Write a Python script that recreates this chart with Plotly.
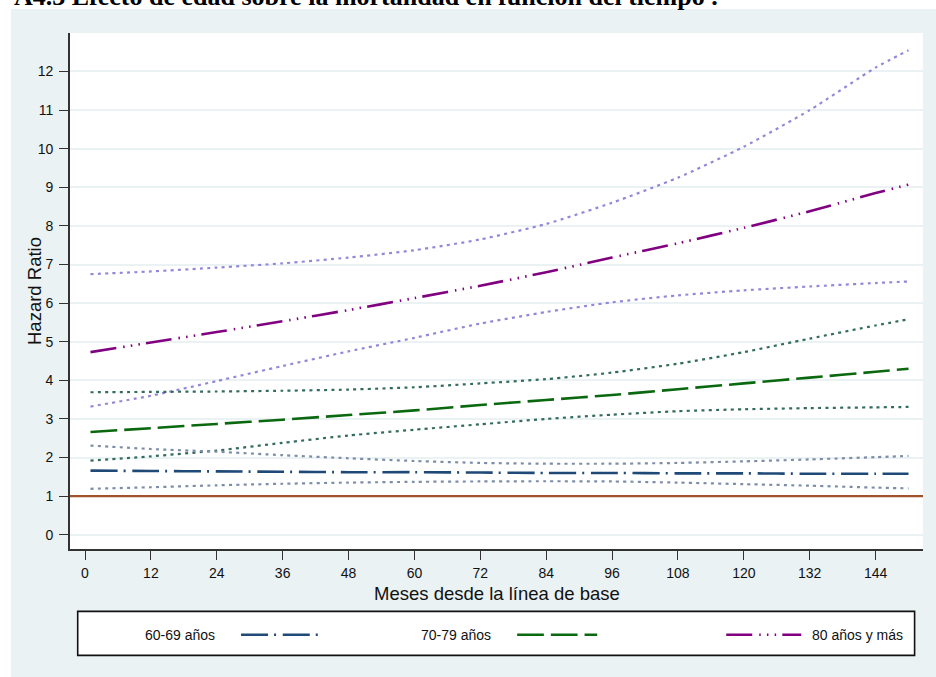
import plotly.graph_objects as go

# ---------------- data ----------------
months = [1, 12, 24, 36, 48, 60, 72, 84, 96, 108, 120, 132, 144, 150]

hr_6069 = [1.66, 1.65, 1.64, 1.63, 1.62, 1.62, 1.61, 1.60, 1.60, 1.59, 1.59, 1.58, 1.58, 1.58]
lo_6069 = [1.19, 1.23, 1.28, 1.32, 1.35, 1.37, 1.38, 1.385, 1.38, 1.35, 1.31, 1.27, 1.22, 1.20]
hi_6069 = [2.31, 2.22, 2.15, 2.06, 1.98, 1.91, 1.86, 1.84, 1.84, 1.86, 1.90, 1.95, 2.01, 2.04]

hr_7079 = [2.66, 2.76, 2.87, 2.98, 3.10, 3.22, 3.36, 3.49, 3.62, 3.77, 3.92, 4.07, 4.22, 4.30]
lo_7079 = [1.92, 2.03, 2.18, 2.38, 2.57, 2.72, 2.86, 3.00, 3.11, 3.20, 3.25, 3.28, 3.30, 3.31]
hi_7079 = [3.69, 3.70, 3.71, 3.73, 3.76, 3.82, 3.92, 4.03, 4.20, 4.43, 4.73, 5.08, 5.42, 5.58]

hr_80 = [4.73, 4.98, 5.25, 5.53, 5.82, 6.13, 6.45, 6.80, 7.18, 7.55, 7.95, 8.38, 8.85, 9.07]
lo_80 = [3.32, 3.60, 3.98, 4.37, 4.75, 5.10, 5.47, 5.77, 6.02, 6.20, 6.33, 6.43, 6.52, 6.56]
hi_80 = [6.75, 6.82, 6.92, 7.03, 7.18, 7.37, 7.65, 8.05, 8.60, 9.25, 10.05, 11.00, 12.10, 12.55]

reference_hr = 1
x_ticks = list(range(0, 145, 12))
y_ticks = list(range(0, 13))
legend_labels = ["60-69 años", "70-79 años", "80 años y más"]
title_text = "A4.3 Efecto de edad sobre la mortandad en función del tiempo ."
x_title = "Meses desde la línea de base"
y_title = "Hazard Ratio"

# ---------------- layout geometry (pixels) ----------------
FIG_W, FIG_H = 936, 677
L, R, T, B = 70.0, 922.7, 33.3, 549.3
PW, PH = R - L, B - T


def px(x):
    return (x - L) / PW


def py(y):
    return (B - y) / PH


PANEL = "#EAF2F3"
FONT = "Liberation Sans, Arial, sans-serif"

C_6069 = "#1F4A78"
C_6069_CI = "#7D8DA8"
C_7079 = "#0A680F"
C_7079_CI = "#336B5E"
C_80 = "#800080"
C_80_CI = "#9487D8"
C_REF = "#A0522D"

DASH_6069 = "27px,6px,2px,6.7px"
DASH_7079 = "26.7px,7px"
DASH_80 = "26px,7px,1.5px,6.2px,1.5px,6.2px,1.5px,6.2px"
DOT = "3px,4.3px"

fig = go.Figure()


def add_line(x, y, color, dash, width, name):
    fig.add_trace(go.Scatter(
        x=x, y=y, mode="lines", name=name, showlegend=False,
        line=dict(color=color, dash=dash, width=width, shape="spline", smoothing=0.6),
        hoverinfo="skip",
    ))


add_line(months, hi_80, C_80_CI, DOT, 2.2, "80+ IC sup")
add_line(months, lo_80, C_80_CI, DOT, 2.2, "80+ IC inf")
add_line(months, hi_7079, C_7079_CI, DOT, 2.2, "70-79 IC sup")
add_line(months, lo_7079, C_7079_CI, DOT, 2.2, "70-79 IC inf")
add_line(months, hi_6069, C_6069_CI, DOT, 2.2, "60-69 IC sup")
add_line(months, lo_6069, C_6069_CI, DOT, 2.2, "60-69 IC inf")
add_line(months, hr_80, C_80, DASH_80, 2.6, legend_labels[2])
add_line(months, hr_7079, C_7079, DASH_7079, 2.6, legend_labels[1])
add_line(months, hr_6069, C_6069, DASH_6069, 2.6, legend_labels[0])

shapes = [
    # graph region background
    dict(type="rect", xref="paper", yref="paper", x0=px(11), x1=px(940), y0=py(9.3), y1=py(690),
         fillcolor=PANEL, line=dict(width=0), layer="below"),
    # plot region
    dict(type="rect", xref="paper", yref="paper", x0=0, x1=1, y0=0, y1=1,
         fillcolor="white", line=dict(width=0), layer="below"),
    # reference line HR = 1
    dict(type="line", xref="paper", yref="y", x0=0, x1=1, y0=reference_hr, y1=reference_hr,
         line=dict(color=C_REF, width=2.2), layer="above"),
    # legend box
    dict(type="rect", xref="paper", yref="paper", x0=px(77.7), x1=px(914.3), y0=py(655.7), y1=py(611.7),
         fillcolor="white", line=dict(color="#111111", width=1.6), layer="above"),
    # legend keys
    dict(type="line", xref="paper", yref="paper", x0=px(241), x1=px(318), y0=py(635), y1=py(635),
         line=dict(color=C_6069, width=2.6, dash=DASH_6069), layer="above"),
    dict(type="line", xref="paper", yref="paper", x0=px(517), x1=px(597), y0=py(635), y1=py(635),
         line=dict(color=C_7079, width=2.6, dash=DASH_7079), layer="above"),
    dict(type="line", xref="paper", yref="paper", x0=px(726), x1=px(801), y0=py(635), y1=py(635),
         line=dict(color=C_80, width=2.6, dash=DASH_80), layer="above"),
]

annotations = [
    dict(text=f"<b>{title_text}</b>", xref="paper", yref="paper", x=px(12), y=py(13),
         xanchor="left", yanchor="bottom", showarrow=False,
         font=dict(family="Liberation Serif, Times New Roman, serif", size=26, color="#000")),
    dict(text=x_title, xref="paper", yref="paper", x=px(497), y=py(594),
         xanchor="center", yanchor="middle", showarrow=False,
         font=dict(family=FONT, size=18.5, color="#111")),
    dict(text=y_title, xref="paper", yref="paper", x=px(34), y=0.5, textangle=-90,
         xanchor="center", yanchor="middle", showarrow=False,
         font=dict(family=FONT, size=18.5, color="#111")),
    dict(text=legend_labels[0], xref="paper", yref="paper", x=px(179.5), y=py(635),
         xanchor="center", yanchor="middle", showarrow=False,
         font=dict(family=FONT, size=14, color="#111")),
    dict(text=legend_labels[1], xref="paper", yref="paper", x=px(455.5), y=py(635),
         xanchor="center", yanchor="middle", showarrow=False,
         font=dict(family=FONT, size=14, color="#111")),
    dict(text=legend_labels[2], xref="paper", yref="paper", x=px(857), y=py(635),
         xanchor="center", yanchor="middle", showarrow=False,
         font=dict(family=FONT, size=14, color="#111")),
]

fig.update_layout(
    width=FIG_W, height=FIG_H,
    margin=dict(l=L, r=FIG_W - R, t=T, b=FIG_H - B, pad=0),
    paper_bgcolor="white", plot_bgcolor="white",
    showlegend=False,
    shapes=shapes, annotations=annotations,
    font=dict(family=FONT, size=14, color="#111"),
    xaxis=dict(
        range=[-2.733, 152.64], tickvals=x_ticks, ticktext=[str(v) for v in x_ticks],
        showgrid=False, zeroline=False, showline=True, linecolor="#333", linewidth=1.6,
        ticks="outside", ticklen=9, tickwidth=1.4, tickcolor="#333",
        tickfont=dict(family=FONT, size=14, color="#111"), ticklabelstandoff=1,
    ),
    yaxis=dict(
        range=[-0.37, 12.997], tickvals=y_ticks, ticktext=[str(v) for v in y_ticks],
        showgrid=True, gridcolor=PANEL, gridwidth=2, zeroline=False,
        showline=True, linecolor="#333", linewidth=1.6,
        ticks="outside", ticklen=9, tickwidth=1.4, tickcolor="#333",
        tickfont=dict(family=FONT, size=14, color="#111"), ticklabelstandoff=3,
    ),
)

fig.write_html("out.html")
